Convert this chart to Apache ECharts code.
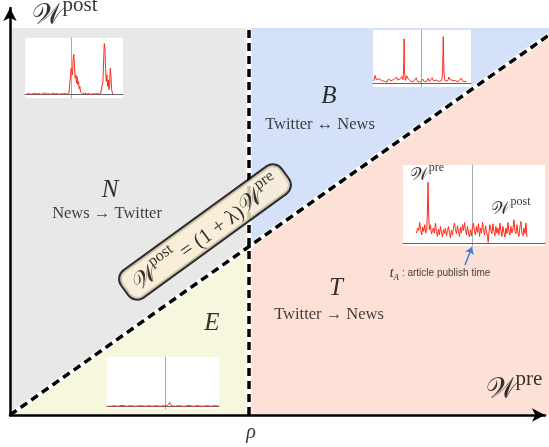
<!DOCTYPE html>
<html>
<head>
<meta charset="utf-8">
<script src="https://cdn.jsdelivr.net/npm/echarts@6/dist/echarts.min.js"></script>
<style>
html, body { margin: 0; padding: 0; background: #fff; }
#main { width: 549px; height: 447px; }
</style>
</head>
<body>
<div id="main"></div>
<script>
// axes of the sketch: W_pre along x, W_post along y
let rho = 239;
let xEnd = 539;
let yTop = 387;
let diagonal = [[0, 0], [539, 380]];

let regionNames = ['N', 'E', 'B', 'T'];
let regionText = ['News \u2192 Twitter', '', 'Twitter \u2194 News', 'Twitter \u2192 News'];

// little inset time series (offset from publish time, volume)
let insetN = [[-133,2],[-127,4],[-121,1],[-115,3],[-109,5],[-103,2],[-97,4],[-91,1],[-85,3],[-79,6],[-73,2],[-67,3],[-61,1],[-55,5],[-49,2],[-43,4],[-37,1],[-31,3],[-25,2],[-19,4],[-13,2],[-7,3],[-2,1],
  [0,80],[2,70],[4,60],[6,110],[8,122],[10,85],[12,50],[14,60],[16,35],[18,55],[20,30],[22,40],[24,18],[26,25],[28,8],[30,10],[34,3],[40,5],[46,2],[52,4],[58,1],[64,3],[70,2],[76,4],[82,2],[88,3],[92,5],
  [95,40],[97,100],[99,155],[101,140],[103,80],[105,40],[107,60],[109,25],[111,45],[113,15],[115,30],[117,80],[119,55],[121,15],[124,2]];
let insetB = [[-141,8],[-137,25],[-133,12],[-129,6],[-125,15],[-121,20],[-117,10],[-113,16],[-109,7],[-105,12],[-101,5],[-97,14],[-93,18],[-89,9],[-85,6],[-81,13],[-77,8],[-73,20],[-69,11],[-65,7],[-61,15],[-57,22],[-53,12],[-51,60],[-50,136],[-49,40],[-46,10],[-42,24],[-38,15],[-34,20],[-30,8],[-26,12],[-22,6],[-18,10],[-14,18],[-10,7],[-6,12],[-2,5],
  [2,9],[6,14],[10,6],[14,11],[18,8],[22,16],[26,7],[30,12],[34,18],[38,9],[42,5],[46,11],[50,15],[54,7],[58,12],[62,9],[65,30],[67,143],[69,35],[72,10],[76,14],[80,8],[84,20],[88,12],[92,7],[96,10],[100,15],[104,9],[108,13],[112,6],[116,10],[120,17],[124,9],[128,12],[132,6],[137,8]];
let insetT = [[-167,30],[-163,45],[-160,38],[-157,62],[-154,40],[-151,25],[-148,48],[-145,35],[-142,55],[-139,30],[-136,42],[-134,90],[-132,183],[-130,80],[-128,40],[-125,55],[-122,28],[-119,22],[-116,45],[-113,30],[-110,60],[-107,35],[-104,20],[-101,42],[-98,25],[-95,50],[-92,32],[-89,18],[-86,40],[-83,28],[-80,45],[-77,22],[-74,35],[-71,50],[-68,30],[-65,15],[-62,38],[-59,24],[-56,45],[-53,60],[-50,40],[-47,28],[-44,52],[-41,35],[-38,20],[-35,48],[-32,30],[-29,55],[-26,38],[-23,62],[-20,40],[-17,25],[-14,50],[-11,30],[-8,18],[-5,40],[-2,22],
  [1,48],[4,60],[7,35],[10,25],[13,50],[16,32],[19,58],[22,20],[25,45],[28,30],[31,62],[34,38],[37,25],[40,52],[43,35],[46,20],[48,2],[50,30],[53,55],[56,40],[59,28],[62,58],[65,35],[68,22],[71,50],[74,30],[77,45],[80,25],[83,60],[86,38],[89,20],[92,50],[95,32],[98,18],[101,45],[104,28],[107,62],[110,35],[113,24],[116,50],[119,30],[122,42],[125,70],[128,35],[131,28],[134,55],[137,30],[140,20],[143,48],[146,65],[149,30],[152,22],[155,45],[158,28],[161,60],[164,20],[166,18]];
let insetE = [[-170,2],[-162,1],[-154,3],[-146,1],[-138,2],[-130,4],[-122,2],[-114,1],[-106,3],[-98,2],[-90,1],[-82,2],[-74,3],[-70,6],[-66,2],[-58,1],[-52,3],[-50,5],[-46,2],[-38,1],[-30,3],[-22,2],[-14,1],[-6,3],[0,2],
  [6,4],[10,8],[13,12],[16,5],[22,2],[30,1],[38,3],[46,2],[54,1],[62,2],[70,4],[78,2],[86,1],[94,3],[102,2],[110,1],[118,2],[126,3],[134,1],[142,2],[150,3],[160,1]];

let k = diagonal[1][1] / diagonal[1][0];
let yRho = k * rho;
let regionShapes = [
  [[0, 0], [rho, yRho], [rho, yTop], [0, yTop]],
  [[0, 0], [rho, 0], [rho, yRho]],
  [[rho, yRho], [rho, yTop], [xEnd, yTop], [xEnd, k * xEnd]],
  [[rho, 0], [xEnd, 0], [xEnd, k * xEnd], [rho, yRho]]
];
let regionColors = ['#e8e8e8', '#f7f7de', '#d4e1f8', '#fde0d6'];

let serif = 'Liberation Serif';
let mathRich = function (big, small, mid) {
  return {
    w: { fontFamily: serif, fontSize: big, color: '#000', verticalAlign: 'bottom', lineHeight: big * 1.25 },
    sup: { fontFamily: serif, fontSize: small, color: '#000', verticalAlign: 'top', lineHeight: big * 1.25 },
    t: { fontFamily: serif, fontSize: mid || small, color: '#000', verticalAlign: 'bottom', lineHeight: big * 1.25 }
  };
};

let txt = function (x, y, formatter, style) {
  return { value: [x, y], label: Object.assign({ show: true, formatter: formatter }, style) };
};

let bigLetter = { fontFamily: serif, fontStyle: 'italic', fontSize: 25, color: '#000' };
let caption = { fontFamily: serif, fontSize: 16.5, color: '#111' };

let app = {};
app.inset = function (idx, box, xr, yr) {
  return {
    grid: { left: box[0], top: box[1], width: box[2], height: box[3], show: true, backgroundColor: '#fff', borderWidth: 0, z: 5 },
    xAxis: { type: 'value', gridIndex: idx, min: xr[0], max: xr[1], z: 6,
      axisLine: { onZero: true, lineStyle: { color: '#666', width: 1 } },
      axisTick: { show: false }, axisLabel: { show: false }, splitLine: { show: false } },
    yAxis: { type: 'value', gridIndex: idx, min: yr[0], max: yr[1], z: 6,
      axisLine: { show: true, onZero: true, lineStyle: { color: '#aaa', width: 1 } },
      axisTick: { show: false }, axisLabel: { show: false }, splitLine: { show: false } }
  };
};

let insets = [
  app.inset(1, [25, 38, 98, 60], [-138, 155], [-10, 172]),
  app.inset(2, [373, 30, 98, 57], [-143, 150], [-10, 163]),
  app.inset(3, [403, 165, 142, 81], [-207, 218], [-9, 235]),
  app.inset(4, [107, 357, 112, 52], [-175, 160], [-7, 148])
];
let insetData = [insetN, insetB, insetT, insetE];

let myChart = echarts.init(document.getElementById('main'));

let option = {
  animation: false,
  grid: [{ left: 10, right: 4, top: 8, bottom: 32 }].concat(insets.map(a => a.grid)),
  xAxis: [{
    type: 'value', min: 0, max: 535, z: 10,
    axisLine: { show: true, symbol: ['none', 'arrow'], symbolSize: [10, 13], lineStyle: { color: '#000', width: 2.5 } },
    axisTick: { show: false }, axisLabel: { show: false }, splitLine: { show: false }
  }].concat(insets.map(a => a.xAxis)),
  yAxis: [{
    type: 'value', min: 0, max: 407, z: 10,
    axisLine: { show: true, symbol: ['none', 'arrow'], symbolSize: [10, 13], lineStyle: { color: '#000', width: 2.5 } },
    axisTick: { show: false }, axisLabel: { show: false }, splitLine: { show: false }
  }].concat(insets.map(a => a.yAxis)),
  series: [
    {
      type: 'custom', clip: false, z: 1, silent: true,
      data: regionNames.map((n, i) => [i, 0]),
      renderItem: function (params, api) {
        return {
          type: 'polygon',
          shape: { points: regionShapes[params.dataIndex].map(p => api.coord(p)) },
          style: { fill: regionColors[params.dataIndex] }
        };
      }
    },
    // dashed borders, white underneath
    { type: 'line', data: diagonal, clip: false, showSymbol: false, z: 3, lineStyle: { color: '#fff', width: 5 } },
    { type: 'line', data: [[rho, 0], [rho, yTop]], showSymbol: false, z: 3, lineStyle: { color: '#fff', width: 5 } },
    { type: 'line', data: diagonal, clip: false, showSymbol: false, z: 4, lineStyle: { color: '#000', width: 3.5, type: [8, 5] } },
    { type: 'line', data: [[rho, 0], [rho, yTop]], showSymbol: false, z: 4, lineStyle: { color: '#000', width: 3.5, type: [8, 5] } }
  ].concat(insetData.map((d, i) => ({
    type: 'line', xAxisIndex: i + 1, yAxisIndex: i + 1, data: d, showSymbol: false, z: 7,
    lineStyle: { color: '#ff2a1a', width: 1 }
  }))).concat([
    {
      type: 'scatter', symbolSize: 0, z: 12, clip: false, silent: true,
      data: [
        txt(100, 225, regionNames[0], bigLetter),
        txt(97, 201, regionText[0], caption),
        txt(202, 92, regionNames[1], bigLetter),
        txt(319, 319, regionNames[2], bigLetter),
        txt(310, 290, regionText[2], caption),
        txt(326, 127, regionNames[3], bigLetter),
        txt(319, 100, regionText[3], caption),
        txt(241, -18, '\u03c1', { fontFamily: serif, fontStyle: 'italic', fontSize: 20, color: '#000' }),
        txt(55, 402, '{w|\ud835\udcb2}{sup|post}', { rich: mathRich(29, 21) }),
        txt(504, 28, '{w|\ud835\udcb2}{sup|pre}', { rich: mathRich(29, 21) }),
        txt(417, 242, '{w|\ud835\udcb2}{sup|pre}', { rich: mathRich(18, 12) }),
        txt(501, 208, '{w|\ud835\udcb2}{sup|post}', { rich: mathRich(18, 12) }),
        txt(430, 142, '{t|t}{s|A}{a| : article publish time}', {
          rich: {
            t: { fontFamily: serif, fontStyle: 'italic', fontSize: 14, color: '#000', verticalAlign: 'middle', lineHeight: 18 },
            s: { fontFamily: serif, fontStyle: 'italic', fontSize: 9, color: '#000', verticalAlign: 'bottom', lineHeight: 18 },
            a: { fontFamily: 'Liberation Sans', fontSize: 10, color: '#111', verticalAlign: 'middle', lineHeight: 18 }
          }
        }),
        txt(195, 183, '{w|\ud835\udcb2}{sup|post}{t| = (1 + \u03bb)}{w|\ud835\udcb2}{sup|pre}', {
          rotate: 36,
          backgroundColor: '#fdefd3', borderColor: '#000', borderWidth: 2, borderRadius: 10,
          padding: [1, 10, 1, 10],
          rich: mathRich(24, 16, 21)
        })
      ],
      markLine: {
        silent: true, symbol: ['none', 'arrow'], symbolSize: 7,
        label: { show: false },
        lineStyle: { color: '#3a7de0', width: 1.5, type: 'solid' },
        data: [[{ coord: [455, 150] }, { coord: [462, 168] }]]
      }
    }
  ])
};

myChart.setOption(option);
</script>
</body>
</html>
